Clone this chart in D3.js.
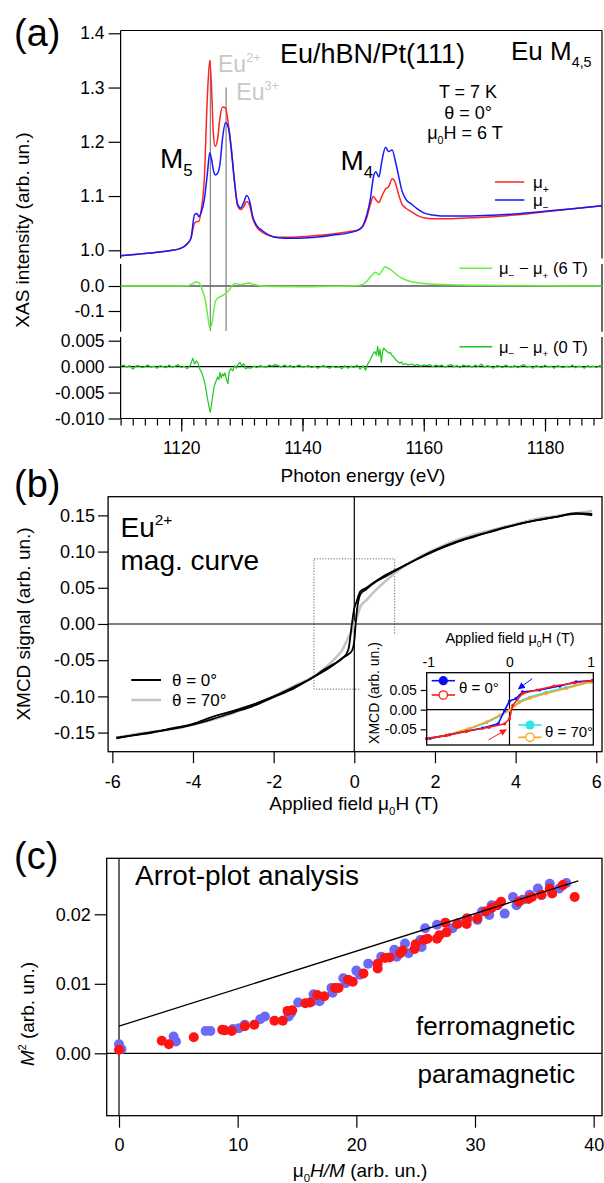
<!DOCTYPE html>
<html>
<head>
<meta charset="utf-8">
<script src="https://cdn.jsdelivr.net/npm/d3@7"></script>
<style>
  body { margin: 0; background: #fff; }
  svg { display: block; }
</style>
</head>
<body>
<svg id="fig" width="604" height="1183"></svg>
<script>
// ---------------- (a) Eu M4,5 XAS spectra ----------------
const xasEnergy = [1110, 1114, 1118, 1120, 1121, 1121.6, 1122.2, 1122.6, 1122.9, 1123.3,
  1123.8, 1124.3, 1124.7, 1125.0, 1125.3, 1125.6, 1126.0, 1126.4, 1126.8, 1127.3,
  1127.8, 1128.3, 1128.8, 1129.3, 1129.8, 1130.3, 1130.8, 1131.3, 1131.8, 1132.5,
  1133.4, 1134.5, 1136, 1138, 1141, 1145, 1148, 1149.3, 1150, 1150.6,
  1151.2, 1151.7, 1152.1, 1152.6, 1153.1, 1153.7, 1154.2, 1154.8, 1155.3, 1155.8,
  1156.4, 1157, 1158, 1159, 1160, 1161.5, 1163, 1166, 1170, 1175, 1180, 1185, 1189.4];
const muMinus = [0.990, 0.994, 0.999, 1.004, 1.012, 1.022, 1.066, 1.068, 1.062, 1.070,
  1.093, 1.140, 1.180, 1.168, 1.148, 1.139, 1.142, 1.160, 1.205, 1.235,
  1.225, 1.180, 1.125, 1.085, 1.078, 1.088, 1.101, 1.090, 1.062, 1.045,
  1.036, 1.028, 1.023, 1.022, 1.023, 1.028, 1.033, 1.038, 1.046, 1.065,
  1.095, 1.135, 1.145, 1.135, 1.165, 1.190, 1.182, 1.185, 1.165, 1.140,
  1.110, 1.095, 1.085, 1.076, 1.069, 1.065, 1.063, 1.063, 1.064, 1.067, 1.072, 1.077, 1.082];
const muPlus = [0.990, 0.994, 0.999, 1.004, 1.012, 1.022, 1.050, 1.053, 1.053, 1.075,
  1.130, 1.280, 1.350, 1.300, 1.215, 1.192, 1.205, 1.245, 1.264, 1.262,
  1.230, 1.185, 1.125, 1.082, 1.075, 1.080, 1.090, 1.082, 1.058, 1.042,
  1.033, 1.027, 1.024, 1.024, 1.026, 1.030, 1.035, 1.038, 1.045, 1.060,
  1.085, 1.099, 1.093, 1.088, 1.100, 1.113, 1.117, 1.132, 1.125, 1.105,
  1.085, 1.078, 1.071, 1.064, 1.060, 1.058, 1.058, 1.059, 1.061, 1.065, 1.071, 1.077, 1.082];

// XMCD at 6 T
const diff6Energy = [1110, 1118, 1121, 1121.8, 1122.4, 1122.8, 1123.2, 1123.6, 1124.0, 1124.4,
  1124.7, 1125.0, 1125.3, 1125.6, 1126.0, 1126.5, 1127.0, 1127.5, 1128.0, 1128.5,
  1129.0, 1129.5, 1130.0, 1130.6, 1131.2, 1132, 1133, 1135, 1140, 1145,
  1148, 1149.5, 1150.3, 1151.0, 1151.5, 1152.1, 1152.6, 1153.1, 1153.6, 1154.1,
  1154.6, 1155.2, 1155.8, 1156.5, 1157.3, 1158.2, 1159.5, 1161, 1163, 1166, 1170, 1175, 1180, 1189.4];
const diff6 = [0, 0, 0.001, 0.008, 0.016, 0.015, 0.002, -0.025, -0.060, -0.125,
  -0.168, -0.155, -0.110, -0.065, -0.048, -0.042, -0.035, -0.027, -0.012, 0.004,
  0.010, 0.007, 0.006, 0.010, 0.012, 0.006, 0.001, -0.002, -0.003, -0.001,
  0.000, 0.003, 0.012, 0.030, 0.045, 0.055, 0.045, 0.060, 0.077, 0.072,
  0.064, 0.052, 0.040, 0.030, 0.022, 0.016, 0.011, 0.008, 0.006, 0.004, 0.003, 0.002, 0.001, 0];

// XMCD at 0 T (remanence), [energy, signal]
const diff0T = [
  [1110, 0.0001], [1110.5, 0.0003], [1111, -0.0001], [1111.5, 0.0002], [1112, -0.0005], [1112.5, 0.0001],
  [1113, 0.0002], [1113.5, -0.0002], [1114, 0], [1114.5, 0.0003], [1115, -0.0001], [1115.5, 0.0001],
  [1116, -0.0003], [1116.5, 0.0002], [1117, 0], [1117.5, -0.0002], [1118, 0.0003], [1118.5, -0.0001],
  [1119, 0.0001], [1119.5, 0.0004], [1120, -0.0002], [1120.5, 0.0001], [1121, -0.0004], [1121.5, 0.0003],
  [1121.9, 0.0016], [1122.2, 0.0005], [1122.5, 0.0011], [1122.8, 0.0006], [1123.1, -0.0006], [1123.4, -0.0012],
  [1123.7, -0.0023], [1124.0, -0.0038], [1124.3, -0.0060], [1124.6, -0.0078], [1124.8, -0.0088], [1125.0, -0.0072],
  [1125.2, -0.0055], [1125.4, -0.0040], [1125.6, -0.0032], [1125.8, -0.0026], [1126.0, -0.0020], [1126.2, -0.0025],
  [1126.4, -0.0011], [1126.6, -0.0022], [1126.8, -0.0014], [1127.0, -0.0018], [1127.2, -0.0012], [1127.5, -0.0026],
  [1127.7, -0.0033], [1127.9, -0.0010], [1128.2, -0.0004], [1128.5, -0.0008], [1128.8, 0.0002], [1129.1, -0.0003],
  [1129.4, 0.0005], [1129.7, 0.0008], [1130.0, 0.0001], [1130.3, 0.0006], [1130.6, -0.0004], [1130.9, -0.0002],
  [1131.5, -0.0003], [1132, 0.0001], [1132.5, -0.0002], [1133, 0.0002], [1133.5, 0], [1134, -0.0001],
  [1134.5, 0.0003], [1135, 0.0001], [1135.5, 0.0004], [1136, 0.0002], [1136.5, -0.0001], [1137, 0.0003],
  [1137.5, 0], [1138, 0.0002], [1138.5, -0.0002], [1139, 0.0001], [1139.5, 0.0003], [1140, -0.0001],
  [1140.5, 0], [1141, 0.0002], [1141.5, -0.0002], [1142, 0.0001], [1142.5, -0.0003], [1143, 0],
  [1143.5, 0.0002], [1144, -0.0001], [1144.5, -0.0003], [1145, 0.0001], [1145.5, -0.0002], [1146, 0],
  [1146.5, -0.0004], [1147, 0.0002], [1147.5, -0.0003], [1148, 0.0001], [1148.5, -0.0002], [1149, 0.0003],
  [1149.5, -0.0005], [1150, 0.0002], [1150.4, -0.0007], [1150.7, 0.0004],
  [1151.0, 0.0009], [1151.3, 0.0016], [1151.6, 0.0024], [1151.9, 0.0029], [1152.2, 0.0022], [1152.4, 0.0039],
  [1152.6, 0.0020], [1152.8, 0.0034], [1153.0, 0.0008], [1153.2, 0.0028], [1153.4, 0.0036], [1153.6, 0.0033],
  [1153.9, 0.0030], [1154.2, 0.0026], [1154.5, 0.0027], [1154.8, 0.0021], [1155.1, 0.0018], [1155.4, 0.0013],
  [1155.7, 0.0010], [1156.0, 0.0007], [1156.3, 0.0009], [1156.6, 0.0004], [1157.0, 0.0006], [1157.4, 0.0003],
  [1158, 0.0005], [1158.5, 0.0002], [1159, 0.0004], [1159.5, 0.0001], [1160, 0.0003], [1160.5, 0.0002],
  [1161, 0.0004], [1161.5, 0], [1162, 0.0003], [1162.5, 0.0001], [1163, 0.0003], [1163.5, -0.0001],
  [1164, 0.0002], [1164.5, 0.0004], [1165, 0], [1165.5, 0.0002], [1166, -0.0002], [1166.5, 0.0003],
  [1167, 0.0001], [1167.5, 0.0002], [1168, -0.0001], [1168.5, 0.0003], [1169, 0], [1169.5, 0.0005],
  [1170, -0.0001], [1170.5, 0.0002], [1171, 0], [1171.5, -0.0003], [1172, 0.0002], [1172.5, 0.0001],
  [1173, -0.0002], [1173.5, 0.0003], [1174, 0], [1174.5, -0.0001], [1175, 0.0002], [1175.5, -0.0002],
  [1176, 0.0001], [1176.5, 0.0004], [1177, -0.0001], [1177.5, 0.0001], [1178, -0.0003], [1178.5, 0.0002],
  [1179, 0], [1179.5, -0.0002], [1180, 0.0003], [1180.5, -0.0001], [1181, 0.0001], [1181.5, -0.0003],
  [1182, 0.0002], [1182.5, 0], [1183, -0.0002], [1183.5, 0.0001], [1184, -0.0001], [1184.5, 0.0003],
  [1185, -0.0002], [1185.5, 0.0001], [1186, 0], [1186.5, -0.0003], [1187, 0.0002], [1187.5, -0.0001],
  [1188, 0.0001], [1188.5, -0.0002], [1189, 0.0002], [1189.4, 0]
];

const eu2Energy = 1124.8, eu2Top = 1.35;   // Eu2+ peak marker
const eu3Energy = 1127.4, eu3Top = 1.30;   // Eu3+ peak marker
const xasTicks = [1.0, 1.1, 1.2, 1.3, 1.4];
const diff6Ticks = [-0.1, 0.0];
const diff0Ticks = [-0.010, -0.005, 0.000, 0.005];
const energyTicks = [1120, 1140, 1160, 1180];

// ---------------- (b) magnetization curves ----------------
const fieldGrid = [-5.9, -5.5, -5, -4.5, -4, -3.5, -3, -2.5, -2, -1.5,
  -1, -0.75, -0.5, -0.3, -0.15, -0.05, 0, 0.05, 0.15, 0.3,
  0.5, 0.75, 1, 1.5, 2, 2.5, 3, 3.5, 4, 4.5, 5, 5.5, 5.9];
const xmcdUp0 = [-0.158, -0.154, -0.149, -0.145, -0.139, -0.131, -0.122, -0.113, -0.101, -0.089,
  -0.073, -0.065, -0.056, -0.047, -0.042, -0.036, -0.023, 0.011, 0.041, 0.048,
  0.057, 0.065, 0.073, 0.088, 0.102, 0.113, 0.122, 0.129, 0.137, 0.143, 0.148, 0.152, 0.150];
const xmcdDown0 = [-0.157, -0.154, -0.150, -0.144, -0.138, -0.128, -0.120, -0.111, -0.100, -0.087,
  -0.073, -0.063, -0.055, -0.048, -0.036, 0.004, 0.022, 0.030, 0.045, 0.050,
  0.058, 0.067, 0.074, 0.088, 0.101, 0.112, 0.121, 0.130, 0.137, 0.143, 0.148, 0.153, 0.152];
const xmcd70 = [-0.157, -0.153, -0.149, -0.145, -0.139, -0.132, -0.123, -0.112, -0.100, -0.086,
  -0.072, -0.062, -0.049, -0.036, -0.019, -0.008, -0.002, 0.006, 0.024, 0.033,
  0.045, 0.058, 0.070, 0.089, 0.103, 0.115, 0.124, 0.131, 0.138, 0.145, 0.149, 0.153, 0.156];
const fieldTicks = [-6, -4, -2, 0, 2, 4, 6];
const xmcdTicks = [-0.15, -0.10, -0.05, 0, 0.05, 0.10, 0.15];

// inset: low-field loop
const insetDownField = [1.02, 0.82, 0.62, 0.37, 0.16, 0.08, 0.0, -0.06, -0.14, -0.33, -0.53, -0.74, -0.98];
const insetDown0 = [0.074, 0.071, 0.060, 0.050, 0.045, 0.028, 0.022, -0.002, -0.036, -0.047, -0.055, -0.064, -0.073];
const insetUpField = [-1.02, -0.78, -0.53, -0.25, -0.06, 0.0, 0.04, 0.16, 0.34, 0.55, 0.8, 1.02];
const insetUp0 = [-0.073, -0.066, -0.055, -0.045, -0.036, -0.023, 0.011, 0.041, 0.050, 0.060, 0.068, 0.074];
const inset70Field = [-1.02, -0.78, -0.5, -0.28, -0.12, 0.0, 0.12, 0.25, 0.45, 0.7, 1.0];
const insetDown70 = [-0.075, -0.066, -0.050, -0.033, -0.016, -0.002, 0.021, 0.032, 0.044, 0.057, 0.070];
const insetUp70 = [-0.074, -0.065, -0.048, -0.031, -0.014, -0.001, 0.018, 0.029, 0.041, 0.054, 0.071];
const insetFieldTicks = [-1, 0, 1];
const insetXmcdTicks = [-0.05, 0, 0.05];

// ---------------- (c) Arrott plot ----------------
const arrotBlueX = [0, 0.2, 4.6, 4.8, 7.3, 7.7, 9.6, 10.1, 10.6, 11.9,
  12.3, 14.3, 14.5, 15.1, 16.3, 16.4, 16.9, 17.9, 18.0, 18.9,
  19.1, 20.0, 20.3, 21.0, 22.1, 23.2, 23.4, 24.1, 24.4, 25.4,
  25.5, 25.8, 26.8, 28.1, 28.6, 29.4, 30.2, 30.6, 31.2, 31.4,
  32.5, 33.2, 33.5, 34.0, 34.6, 35.3, 35.6, 36.3, 37.1, 37.7];
const arrotBlueY = [0.0013, 0.0006, 0.0024, 0.0017, 0.0032, 0.0032, 0.0035, 0.0036, 0.0041, 0.0049,
  0.0053, 0.0053, 0.0058, 0.0073, 0.0075, 0.0085, 0.0075, 0.0094, 0.0087, 0.0108,
  0.0101, 0.0119, 0.0113, 0.0129, 0.0139, 0.0149, 0.0139, 0.0158, 0.0144, 0.0163,
  0.0153, 0.0180, 0.0185, 0.0180, 0.0187, 0.0194, 0.0192, 0.0204, 0.0199, 0.0213,
  0.0201, 0.0225, 0.0213, 0.0221, 0.0228, 0.0237, 0.0228, 0.0244, 0.0237, 0.0245];
const arrotRedX = [0, 3.6, 4.2, 6.3, 8.7, 8.9, 9.5, 10.6, 11.4, 13.1,
  13.8, 14.2, 14.6, 15.7, 16.1, 16.7, 17.3, 18.2, 18.5, 19.3,
  19.7, 20.6, 21.8, 21.8, 22.4, 22.8, 23.7, 23.9, 24.9, 25.0,
  25.7, 26.0, 26.8, 27.0, 27.6, 27.5, 28.5, 29.3, 29.3, 30.2,
  30.9, 31.4, 31.9, 32.2, 33.7, 34.5, 34.8, 35.6, 36.3, 36.5, 37.4, 38.4];
const arrotRedY = [0.0005, 0.0018, 0.0013, 0.0023, 0.0034, 0.0033, 0.0032, 0.0039, 0.0041, 0.0047,
  0.0047, 0.0061, 0.0062, 0.0072, 0.0073, 0.0084, 0.0082, 0.0094, 0.0094, 0.0106,
  0.0103, 0.0115, 0.0122, 0.0129, 0.0137, 0.0138, 0.0144, 0.0148, 0.0150, 0.0157,
  0.0163, 0.0165, 0.0165, 0.0170, 0.0174, 0.0188, 0.0186, 0.0194, 0.0186, 0.0194,
  0.0204, 0.0209, 0.0213, 0.0218, 0.0218, 0.0222, 0.0225, 0.0228, 0.0237, 0.0230, 0.0242, 0.0225];
const arrotFitX = [0, 38.7];
const arrotFitY = [0.0039, 0.0248];
const arrotXTicks = [0, 10, 20, 30, 40];
const arrotYTicks = [0, 0.01, 0.02];

// ---------------- drawing helpers ----------------
const FONT = '"Liberation Sans", Arial, Helvetica, sans-serif';
const svg = d3.select('#fig');
svg.append('rect').attr('width', 604).attr('height', 1183).attr('fill', '#fff');

const fmt = spec => d => d3.format(spec)(d).replace('\u2212', '-');

function drawAxis(axis, x, y, size) {
  const g = svg.append('g').attr('transform', `translate(${x},${y})`).call(axis);
  g.select('.domain').remove();
  g.selectAll('line').attr('stroke', '#000').attr('stroke-width', 1.2);
  g.selectAll('text').attr('font-size', size).attr('fill', '#000').attr('font-family', FONT);
  return g;
}
function line(x1, y1, x2, y2, opts = {}) {
  return svg.append('line').attr('x1', x1).attr('y1', y1).attr('x2', x2).attr('y2', y2)
    .attr('stroke', opts.color || '#000').attr('stroke-width', opts.width || 1.2)
    .attr('stroke-dasharray', opts.dash || null);
}
// text made of parts; parts may be sub/superscript or italic
function rich(parent, x, y, parts, size, attrs = {}) {
  const t = parent.append('text').attr('x', x).attr('y', y).attr('font-size', size)
    .attr('font-family', FONT).attr('fill', '#000');
  Object.entries(attrs).forEach(([k, v]) => t.attr(k, v));
  let shift = 0;
  parts.forEach(p => {
    if (typeof p === 'string') p = { t: p };
    const target = p.sub ? size * 0.28 : p.sup ? -size * 0.42 : 0;
    const ts = t.append('tspan').text(p.t).attr('dy', target - shift);
    if (p.sub || p.sup) ts.attr('font-size', size * (p.scale || 0.6));
    if (p.italic) ts.attr('font-style', 'italic');
    shift = target;
  });
  return t;
}
const pairs = (xs, ys) => xs.map((x, i) => [x, ys[i]]);

// =============== Panel (a) ===============
const aL = 120.6, aR = 602;
const xA = d3.scaleLinear().domain([1110, 1189.4]).range([aL, aR]);
const yTop = d3.scaleLinear().domain([1.0, 1.4]).range([250.3, 33.3]);
const yMid = d3.scaleLinear().domain([-0.1, 0]).range([311, 286]);
const yBot = d3.scaleLinear().domain([-0.010, 0.005]).range([418.5, 340.7]);

// frames
line(aL, 30.5, aR, 30.5);
line(aL, 30.5, aL, 258.5); line(aR, 30.5, aR, 258.5);
line(aL, 264, aL, 331.7); line(aR, 264, aR, 331.7);
line(aL, 337, aL, 418.5); line(aR, 337, aR, 418.5);
line(aL, 418.5, aR, 418.5);
// zero lines
line(aL, yMid(0), aR, yMid(0));
line(aL, yBot(0), aR, yBot(0));

drawAxis(d3.axisLeft(yTop).tickValues(xasTicks).tickSize(12).tickPadding(4).tickFormat(fmt('.1f')), aL, 0, 17.5);
drawAxis(d3.axisLeft(yMid).tickValues(diff6Ticks).tickSize(12).tickPadding(4).tickFormat(fmt('.1f')), aL, 0, 17.5);
drawAxis(d3.axisLeft(yBot).tickValues(diff0Ticks).tickSize(12).tickPadding(4).tickFormat(fmt('.3f')), aL, 0, 17.5);
drawAxis(d3.axisBottom(xA).tickValues(d3.range(1110, 1190, 2)).tickSize(7).tickFormat(''), 0, 418.5, 17.5);
drawAxis(d3.axisBottom(xA).tickValues(energyTicks).tickSize(13).tickPadding(10).tickFormat(d3.format('d')), 0, 418.5, 17.5);

// Eu2+ / Eu3+ marker lines
line(xA(eu2Energy), yTop(eu2Top), xA(eu2Energy), yMid(-0.18), { color: '#777', width: 1.1 });
line(xA(eu3Energy), yTop(eu3Top), xA(eu3Energy), yMid(-0.18), { color: '#777', width: 1.1 });

const spec = d3.line().x(d => xA(d[0])).curve(d3.curveMonotoneX);
svg.append('path').datum(pairs(xasEnergy, muPlus)).attr('fill', 'none').attr('stroke', '#ff2323')
  .attr('stroke-width', 1.5).attr('d', spec.y(d => yTop(d[1])));
svg.append('path').datum(pairs(xasEnergy, muMinus)).attr('fill', 'none').attr('stroke', '#1717ff')
  .attr('stroke-width', 1.5).attr('d', spec.y(d => yTop(d[1])));
svg.append('path').datum(pairs(diff6Energy, diff6)).attr('fill', 'none').attr('stroke', '#66f03c')
  .attr('stroke-width', 1.5).attr('d', spec.y(d => yMid(d[1])));
svg.append('path').datum(diff0T).attr('fill', 'none').attr('stroke', '#1fc81f')
  .attr('stroke-width', 1.2).attr('stroke-linejoin', 'round')
  .attr('d', d3.line().x(d => xA(d[0])).y(d => yBot(d[1])));

// legends
line(495, 182, 524.3, 182, { color: '#ff2323', width: 1.5 });
line(495, 200, 524.3, 200, { color: '#1717ff', width: 1.5 });
rich(svg, 533, 188, ['\u03bc', { t: '+', sub: true }], 17);
rich(svg, 533, 206, ['\u03bc', { t: '\u2212', sub: true }], 17);
line(459.5, 268.3, 492.3, 268.3, { color: '#66f03c', width: 1.6 });
rich(svg, 499, 274, ['\u03bc', { t: '\u2212', sub: true }, ' \u2212 \u03bc', { t: '+', sub: true }, ' (6 T)'], 16.5);
line(459.5, 346.7, 492.3, 346.7, { color: '#1fc81f', width: 1.6 });
rich(svg, 499, 352.5, ['\u03bc', { t: '\u2212', sub: true }, ' \u2212 \u03bc', { t: '+', sub: true }, ' (0 T)'], 16.5);

// annotations
rich(svg, 14, 46, ['(a)'], 38);
rich(svg, 280, 63, ['Eu/hBN/Pt(111)'], 27);
rich(svg, 511, 60, ['Eu M', { t: '4,5', sub: true, scale: 0.55 }], 26);
rich(svg, 468, 97.7, ['T = 7 K'], 18, { 'text-anchor': 'middle' });
rich(svg, 468, 119.3, ['\u03b8 = 0\u00b0'], 18, { 'text-anchor': 'middle' });
rich(svg, 465, 138.5, ['\u03bc', { t: '0', sub: true }, 'H = 6 T'], 18, { 'text-anchor': 'middle' });
rich(svg, 160, 168, ['M', { t: '5', sub: true }], 28);
rich(svg, 340.5, 170, ['M', { t: '4', sub: true }], 28);
rich(svg, 218, 71.7, ['Eu', { t: '2+', sup: true, scale: 0.55 }], 23, { fill: '#c8c8c8' });
rich(svg, 236.3, 100, ['Eu', { t: '3+', sup: true, scale: 0.55 }], 23, { fill: '#c8c8c8' });
rich(svg, 0, 0, ['XAS intensity (arb. un.)'], 19,
  { 'text-anchor': 'middle', transform: 'translate(29,230) rotate(-90)' });
rich(svg, 363, 481.7, ['Photon energy (eV)'], 19, { 'text-anchor': 'middle' });

// =============== Panel (b) ===============
const bL = 108.1, bR = 602, bT = 496.7, bB = 751.7;
const xB = d3.scaleLinear().domain([-6.105, 6.142]).range([bL, bR]);
const yB = d3.scaleLinear().domain([-0.1764, 0.1758]).range([bB, bT]);

drawAxis(d3.axisLeft(yB).tickValues(xmcdTicks).tickSize(10).tickPadding(3).tickFormat(fmt('.2f')), bL, 0, 18);
drawAxis(d3.axisBottom(xB).tickValues(fieldTicks).tickSize(11.5).tickPadding(12).tickFormat(fmt('d')), 0, bB, 18);

line(bL, yB(0), bR, yB(0));
line(xB(0), bT, xB(0), bB);
// zoom window of the inset
svg.append('rect').attr('x', xB(-1)).attr('y', yB(0.09)).attr('width', xB(1) - xB(-1))
  .attr('height', yB(-0.09) - yB(0.09)).attr('fill', 'none').attr('stroke', '#555')
  .attr('stroke-width', 0.9).attr('stroke-dasharray', '1.2,1.6');

const magLine = d3.line().x(d => xB(d[0])).y(d => yB(d[1])).curve(d3.curveMonotoneX);
svg.append('path').datum(pairs(fieldGrid, xmcd70)).attr('fill', 'none').attr('stroke', '#c4c4c4')
  .attr('stroke-width', 2.6).attr('d', magLine);
svg.append('path').datum(pairs(fieldGrid, xmcdUp0)).attr('fill', 'none').attr('stroke', '#000')
  .attr('stroke-width', 1.8).attr('d', magLine);
svg.append('path').datum(pairs(fieldGrid, xmcdDown0)).attr('fill', 'none').attr('stroke', '#000')
  .attr('stroke-width', 1.8).attr('d', magLine);

rich(svg, 14, 497, ['(b)'], 38);
rich(svg, 120.5, 537, ['Eu', { t: '2+', sup: true, scale: 0.55 }], 28);
rich(svg, 120.5, 570, ['mag. curve'], 28);
line(131.3, 680, 161, 680, { color: '#000', width: 2 });
line(131.3, 700, 161, 700, { color: '#c4c4c4', width: 2.6 });
rich(svg, 172, 686, ['\u03b8 = 0\u00b0'], 17);
rich(svg, 172, 706, ['\u03b8 = 70\u00b0'], 17);
rich(svg, 0, 0, ['XMCD signal (arb. un.)'], 19,
  { 'text-anchor': 'middle', transform: 'translate(30,624) rotate(-90)' });
rich(svg, 354, 810, ['Applied field \u03bc', { t: '0', sub: true }, 'H (T)'], 19, { 'text-anchor': 'middle' });

// inset
svg.append('rect').attr('x', 361).attr('y', 635).attr('width', bR - 361).attr('height', bB - 635).attr('fill', '#fff');
const iL = 426.7, iR = 593.3, iT = 672.7, iB = 745;
const xI = d3.scaleLinear().domain([-1, 1]).range([428.3, 590.7]);
const yI = d3.scaleLinear().domain([-0.05, 0.05]).range([729.3, 690]);
line(iL, yI(0), iR, yI(0));
line(xI(0), iT, xI(0), iB);
const insetLine = d3.line().x(d => xI(d[0])).y(d => yI(d[1]));
function insetSeries(xs, ys, color) {
  const data = pairs(xs, ys);
  svg.append('path').datum(data).attr('fill', 'none').attr('stroke', color).attr('stroke-width', 1.6).attr('d', insetLine);
  svg.append('g').selectAll('circle').data(data).join('circle')
    .attr('cx', d => xI(d[0])).attr('cy', d => yI(d[1])).attr('r', 1.6).attr('fill', color);
}
insetSeries(inset70Field, insetDown70, '#2ee6e6');
insetSeries(inset70Field, insetUp70, '#ffa31a');
insetSeries(insetDownField, insetDown0, '#0a0aff');
insetSeries(insetUpField, insetUp0, '#ff1a1a');
svg.append('rect').attr('x', iL).attr('y', iT).attr('width', iR - iL).attr('height', iB - iT)
  .attr('fill', 'none').attr('stroke', '#000').attr('stroke-width', 1.3);
drawAxis(d3.axisLeft(yI).tickValues(insetXmcdTicks).tickSize(6).tickPadding(4).tickFormat(fmt('.2f')), iL, 0, 14);
drawAxis(d3.axisTop(xI).tickValues(insetFieldTicks).tickSize(0).tickPadding(6).tickFormat(fmt('d')), 0, iT, 14);
rich(svg, 510, 643, ['Applied field \u03bc', { t: '0', sub: true }, 'H (T)'], 14.5, { 'text-anchor': 'middle' });
rich(svg, 0, 0, ['XMCD (arb. un.)'], 14,
  { 'text-anchor': 'middle', transform: 'translate(379,693) rotate(-90)' });

// inset legend
line(431.7, 680.7, 455, 680.7, { color: '#0a0aff', width: 1.6 });
svg.append('circle').attr('cx', 443.3).attr('cy', 680.7).attr('r', 4.6).attr('fill', '#0a0aff');
line(431.7, 695, 455, 695, { color: '#ff1a1a', width: 1.6 });
svg.append('circle').attr('cx', 443.3).attr('cy', 695).attr('r', 4.2).attr('fill', '#fff').attr('stroke', '#ff1a1a').attr('stroke-width', 1.3);
rich(svg, 459, 693, ['\u03b8 = 0\u00b0'], 15);
line(518.3, 725, 541.7, 725, { color: '#2ee6e6', width: 1.6 });
svg.append('circle').attr('cx', 530).attr('cy', 725).attr('r', 4.6).attr('fill', '#2ee6e6');
line(518.3, 737.3, 541.7, 737.3, { color: '#ffa31a', width: 1.6 });
svg.append('circle').attr('cx', 530).attr('cy', 737.3).attr('r', 4.2).attr('fill', '#fff').attr('stroke', '#ffa31a').attr('stroke-width', 1.3);
rich(svg, 545, 737, ['\u03b8 = 70\u00b0'], 15);

// sweep-direction arrows
const defs = svg.append('defs');
[['arrBlue', '#0a0aff'], ['arrRed', '#ff1a1a']].forEach(([id, c]) => {
  defs.append('marker').attr('id', id).attr('viewBox', '0 0 10 10').attr('refX', 9).attr('refY', 5)
    .attr('markerWidth', 7).attr('markerHeight', 7).attr('orient', 'auto')
    .append('path').attr('d', 'M0,0 L10,5 L0,10 Z').attr('fill', c);
});
line(xI(0.28), yI(0.079), xI(0.11), yI(0.053), { color: '#0a0aff', width: 1 }).attr('marker-end', 'url(#arrBlue)');
line(xI(-0.26), yI(-0.077), xI(-0.04), yI(-0.051), { color: '#ff1a1a', width: 1 }).attr('marker-end', 'url(#arrRed)');

// main frame of (b) on top
svg.append('rect').attr('x', bL).attr('y', bT).attr('width', bR - bL).attr('height', bB - bT)
  .attr('fill', 'none').attr('stroke', '#000').attr('stroke-width', 1.3);

// =============== Panel (c) ===============
const cL = 106.7, cR = 602, cT = 858.3, cB = 1115.7;
const xC = d3.scaleLinear().domain([0, 30]).range([119, 475]);
const yC = d3.scaleLinear().domain([0, 0.02]).range([1053.3, 914.3]);

svg.append('rect').attr('x', cL).attr('y', cT).attr('width', cR - cL).attr('height', cB - cT)
  .attr('fill', 'none').attr('stroke', '#000').attr('stroke-width', 1.3);
drawAxis(d3.axisLeft(yC).tickValues(arrotYTicks).tickSize(12).tickPadding(4).tickFormat(fmt('.2f')), cL, 0, 18);
drawAxis(d3.axisBottom(xC).tickValues(arrotXTicks).tickSize(12).tickPadding(11).tickFormat(fmt('d')), 0, cB, 18);
line(cL, yC(0), cR, yC(0));
line(xC(0), cT, xC(0), cB);

svg.append('g').selectAll('circle').data(pairs(arrotBlueX, arrotBlueY)).join('circle')
  .attr('cx', d => xC(d[0])).attr('cy', d => yC(d[1])).attr('r', 5).attr('fill', '#6a6af6');
svg.append('g').selectAll('circle').data(pairs(arrotRedX, arrotRedY)).join('circle')
  .attr('cx', d => xC(d[0])).attr('cy', d => yC(d[1])).attr('r', 5).attr('fill', '#ff1414');
svg.append('path').datum(pairs(arrotFitX, arrotFitY)).attr('fill', 'none').attr('stroke', '#000')
  .attr('stroke-width', 1.3).attr('d', d3.line().x(d => xC(d[0])).y(d => yC(d[1])));

rich(svg, 14, 869, ['(c)'], 38);
rich(svg, 135, 885, ['Arrot-plot analysis'], 28);
rich(svg, 575, 1035, ['ferromagnetic'], 26, { 'text-anchor': 'end' });
rich(svg, 575, 1083, ['paramagnetic'], 26, { 'text-anchor': 'end' });
rich(svg, 0, 0, [{ t: 'M', italic: true }, { t: '2', sup: true, scale: 0.55 }, ' (arb. un.)'], 19,
  { 'text-anchor': 'middle', transform: 'translate(34,1014) rotate(-90)' });
rich(svg, 360, 1177, ['\u03bc', { t: '0', sub: true }, { t: 'H/M', italic: true }, ' (arb. un.)'], 19, { 'text-anchor': 'middle' });
</script>
</body>
</html>
